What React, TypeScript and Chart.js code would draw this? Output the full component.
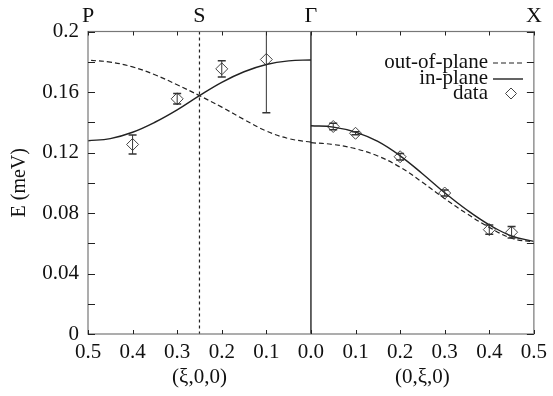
import React, { useEffect, useRef } from 'react';
import { Chart, registerables } from 'chart.js';

Chart.register(...registerables);

// ---- Data ----
// xi grid used for the model curves (reduced wave-vector coordinate)
const xiGrid = [0, 0.05, 0.1, 0.15, 0.2, 0.25, 0.3, 0.35, 0.4, 0.45, 0.5];
// (xi,0,0) branch, Gamma -> P  (plotted leftwards from Gamma)
const outOfPlaneXi00 = [0.1268, 0.1292, 0.1342, 0.1418, 0.1500, 0.1576, 0.1648, 0.1714, 0.1766, 0.1798, 0.1810];
const inPlaneXi00 = [0.1812, 0.1806, 0.1782, 0.1734, 0.1664, 0.1576, 0.1482, 0.1400, 0.1334, 0.1292, 0.1278];
// (0,xi,0) branch, Gamma -> X
const inPlane0Xi0 = [0.1377, 0.1368, 0.1335, 0.1273, 0.1178, 0.1060, 0.0934, 0.0820, 0.0722, 0.0648, 0.0612];
const outOfPlane0Xi0 = [0.1265, 0.1253, 0.1225, 0.1177, 0.1103, 0.1003, 0.0895, 0.0795, 0.0705, 0.0633, 0.0608];

// measured points
const dataXi00 = [0.4, 0.3, 0.2, 0.1];
const dataE00 = [0.1253, 0.1555, 0.1753, 0.1815];
const dataErr00 = [0.0063, 0.0035, 0.0053, 0.0352];
const dataXi0Xi0 = [0.05, 0.1, 0.2, 0.3, 0.4, 0.45];
const dataE0Xi0 = [0.1372, 0.1327, 0.1172, 0.0932, 0.0690, 0.0673];
const dataErr0Xi0 = [0.0022, 0.0010, 0.0022, 0.0020, 0.0030, 0.0038];

// axes
const xTickValues = [0, 0.1, 0.2, 0.3, 0.4, 0.5, 0.6, 0.7, 0.8, 0.9, 1.0];
const xTickLabels = ['0.5', '0.4', '0.3', '0.2', '0.1', '0.0', '0.1', '0.2', '0.3', '0.4', '0.5'];
const yTickLabels = ['0', '0.04', '0.08', '0.12', '0.16', '0.2'];
const yMinorTicks = [0, 0.02, 0.04, 0.06, 0.08, 0.1, 0.12, 0.14, 0.16, 0.18, 0.2];
const symPointPos = [0, 0.25, 0.5, 1.0];
const symPointLabels = ['P', 'S', 'Γ', 'X'];
const panelTitlePos = [0.25, 0.75];
const panelTitles = ['(ξ,0,0)', '(0,ξ,0)'];
const legendLabels = ['out-of-plane', 'in-plane', 'data'];

const FONT = '"Liberation Serif", "DejaVu Serif", serif';

const leftX = (xi: number) => 0.5 - xi;
const rightX = (xi: number) => 0.5 + xi;

const decorPlugin = {
  id: 'decor',
  beforeDatasetsDraw(chart: any) {
    const { ctx, chartArea: a, scales } = chart;
    const xs = scales.x;
    ctx.save();
    let px = xs.getPixelForValue(symPointPos[1]);
    ctx.strokeStyle = '#222';
    ctx.lineWidth = 1.2;
    ctx.setLineDash([3, 3]);
    ctx.beginPath();
    ctx.moveTo(px, a.top);
    ctx.lineTo(px, a.bottom);
    ctx.stroke();
    px = xs.getPixelForValue(symPointPos[2]);
    ctx.setLineDash([]);
    ctx.strokeStyle = '#333';
    ctx.lineWidth = 1.5;
    ctx.beginPath();
    ctx.moveTo(px, a.top);
    ctx.lineTo(px, a.bottom);
    ctx.stroke();
    ctx.restore();
  },
  afterDatasetsDraw(chart: any) {
    const { ctx, chartArea: a, scales } = chart;
    const xs = scales.x;
    const ys = scales.y;
    ctx.save();

    // error bars
    ctx.save();
    ctx.beginPath();
    ctx.rect(a.left, a.top, a.right - a.left, a.bottom - a.top);
    ctx.clip();
    ctx.strokeStyle = '#333';
    const drawErr = (x: number, e: number, d: number) => {
      const px = xs.getPixelForValue(x);
      const p1 = ys.getPixelForValue(e + d);
      const p2 = ys.getPixelForValue(e - d);
      ctx.lineWidth = 1;
      ctx.beginPath();
      ctx.moveTo(px, p1);
      ctx.lineTo(px, p2);
      ctx.stroke();
      ctx.lineWidth = 1.5;
      ctx.beginPath();
      ctx.moveTo(px - 4, p1);
      ctx.lineTo(px + 4, p1);
      ctx.moveTo(px - 4, p2);
      ctx.lineTo(px + 4, p2);
      ctx.stroke();
    };
    dataXi00.forEach((xi, i) => drawErr(leftX(xi), dataE00[i], dataErr00[i]));
    dataXi0Xi0.forEach((xi, i) => drawErr(rightX(xi), dataE0Xi0[i], dataErr0Xi0[i]));
    ctx.restore();

    // frame
    ctx.strokeStyle = '#777';
    ctx.lineWidth = 1.2;
    ctx.setLineDash([]);
    ctx.strokeRect(a.left, a.top, a.right - a.left, a.bottom - a.top);

    // ticks
    ctx.strokeStyle = '#222';
    ctx.lineWidth = 1;
    ctx.beginPath();
    yMinorTicks.forEach((v) => {
      const py = Math.round(ys.getPixelForValue(v)) + 0.5;
      ctx.moveTo(a.left, py);
      ctx.lineTo(a.left + 7, py);
      ctx.moveTo(a.right, py);
      ctx.lineTo(a.right - 7, py);
    });
    xTickValues.forEach((v) => {
      const px = Math.round(xs.getPixelForValue(v)) + 0.5;
      ctx.moveTo(px, a.bottom);
      ctx.lineTo(px, a.bottom - 4);
      ctx.moveTo(px, a.top);
      ctx.lineTo(px, a.top + 4);
    });
    ctx.stroke();

    // symmetry point labels
    ctx.fillStyle = '#111';
    ctx.textAlign = 'center';
    ctx.textBaseline = 'middle';
    ctx.font = `22px ${FONT}`;
    symPointPos.forEach((v, i) => {
      ctx.fillText(symPointLabels[i], xs.getPixelForValue(v), 16);
    });

    // panel titles
    ctx.font = `21px ${FONT}`;
    panelTitlePos.forEach((v, i) => {
      ctx.fillText(panelTitles[i], xs.getPixelForValue(v), 377);
    });

    // y title
    ctx.save();
    ctx.translate(20, (a.top + a.bottom) / 2);
    ctx.rotate(-Math.PI / 2);
    ctx.font = `20px ${FONT}`;
    ctx.fillText('E (meV)', 0, 0);
    ctx.restore();

    // legend
    ctx.font = `21px ${FONT}`;
    ctx.textAlign = 'right';
    const lx = 488;
    const rows = [62, 78, 93];
    legendLabels.forEach((t, i) => ctx.fillText(t, lx, rows[i]));
    ctx.strokeStyle = '#222';
    ctx.lineWidth = 1.2;
    ctx.setLineDash([5, 3]);
    ctx.beginPath();
    ctx.moveTo(493, rows[0] + 1);
    ctx.lineTo(523, rows[0] + 1);
    ctx.stroke();
    ctx.setLineDash([]);
    ctx.lineWidth = 1.4;
    ctx.beginPath();
    ctx.moveTo(493, rows[1] + 1);
    ctx.lineTo(523, rows[1] + 1);
    ctx.stroke();
    ctx.strokeStyle = '#444';
    ctx.lineWidth = 1;
    ctx.beginPath();
    const cx = 511, cy = rows[2] + 0.5, r = 5.5;
    ctx.moveTo(cx, cy - r);
    ctx.lineTo(cx + r, cy);
    ctx.lineTo(cx, cy + r);
    ctx.lineTo(cx - r, cy);
    ctx.closePath();
    ctx.stroke();

    ctx.restore();
  },
};

export default function App() {
  const ref = useRef<HTMLCanvasElement | null>(null);
  useEffect(() => {
    if (!ref.current) return;
    let chart: Chart | null = null;
    let cancelled = false;
    const lineBase = {
      type: 'line' as const,
      pointRadius: 0,
      borderColor: '#222',
      fill: false,
      tension: 0.4,
    };
    const build = () => {
      if (cancelled || !ref.current) return;
      chart = new Chart(ref.current, {
        type: 'line',
        data: {
          datasets: [
            {
              ...lineBase,
              label: 'out-of-plane (ξ,0,0)',
              data: xiGrid.map((xi, i) => ({ x: leftX(xi), y: outOfPlaneXi00[i] })),
              borderWidth: 1.2,
              borderDash: [5, 3],
            },
            {
              ...lineBase,
              label: 'in-plane (ξ,0,0)',
              data: xiGrid.map((xi, i) => ({ x: leftX(xi), y: inPlaneXi00[i] })),
              borderWidth: 1.4,
            },
            {
              ...lineBase,
              label: 'out-of-plane (0,ξ,0)',
              data: xiGrid.map((xi, i) => ({ x: rightX(xi), y: outOfPlane0Xi0[i] })),
              borderWidth: 1.2,
              borderDash: [5, 3],
            },
            {
              ...lineBase,
              label: 'in-plane (0,ξ,0)',
              data: xiGrid.map((xi, i) => ({ x: rightX(xi), y: inPlane0Xi0[i] })),
              borderWidth: 1.4,
            },
            {
              type: 'scatter' as const,
              label: 'data',
              data: [
                ...dataXi00.map((xi, i) => ({ x: leftX(xi), y: dataE00[i] })),
                ...dataXi0Xi0.map((xi, i) => ({ x: rightX(xi), y: dataE0Xi0[i] })),
              ],
              pointStyle: 'rectRot',
              pointRadius: 6,
              borderColor: '#444',
              borderWidth: 1,
              backgroundColor: 'rgba(255,255,255,0)',
              showLine: false,
            },
          ],
        } as any,
        options: {
          animation: false,
          responsive: true,
          maintainAspectRatio: false,
          layout: { padding: { left: 0, right: 15, top: 31.5, bottom: 0 } },
          plugins: { legend: { display: false }, tooltip: { enabled: false } },
          scales: {
            x: {
              type: 'linear',
              min: 0,
              max: 1,
              grid: { display: false, drawTicks: false },
              border: { display: false },
              ticks: {
                stepSize: 0.1,
                autoSkip: false,
                maxRotation: 0,
                padding: 6,
                color: '#111',
                font: { family: FONT, size: 21 },
                callback: (_v: any, i: number) => xTickLabels[i],
              },
              afterFit: (s: any) => {
                s.height = 62;
              },
            },
            y: {
              type: 'linear',
              min: 0,
              max: 0.2,
              grid: { display: false, drawTicks: false },
              border: { display: false },
              ticks: {
                stepSize: 0.04,
                padding: 9,
                color: '#111',
                font: { family: FONT, size: 21 },
                callback: (_v: any, i: number) => yTickLabels[i],
              },
              afterFit: (s: any) => {
                s.width = 88;
              },
            },
          },
        } as any,
        plugins: [decorPlugin],
      });
    };
    const fontsApi = (document as any).fonts;
    if (fontsApi && fontsApi.load) {
      Promise.all([
        fontsApi.load('21px "Liberation Serif"'),
        fontsApi.load('21px "DejaVu Serif"'),
      ])
        .catch(() => null)
        .then(() => build());
    } else {
      build();
    }
    return () => {
      cancelled = true;
      if (chart) chart.destroy();
    };
  }, []);
  return (
    <div style={{ position: 'absolute', left: 0, top: 0, width: 553, height: 396, background: '#fff' }}>
      <canvas ref={ref} style={{ display: 'block' }} />
    </div>
  );
}
